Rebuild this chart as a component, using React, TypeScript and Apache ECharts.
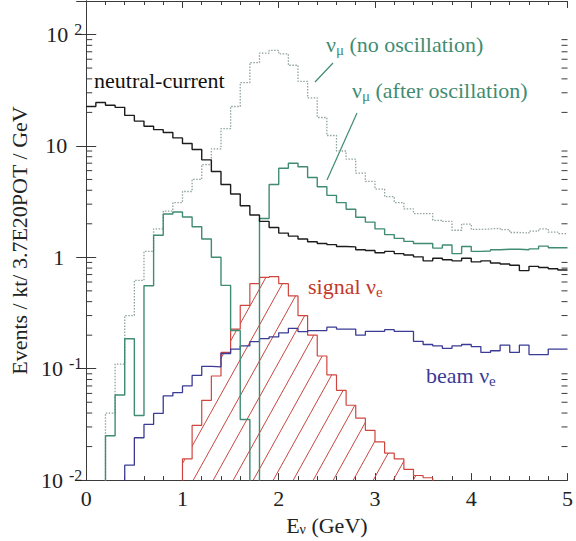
import React, { useEffect, useRef } from "react";
import * as echarts from "echarts";

// ---- data (0.1 GeV bins from 0 to 5 GeV); BELOW = under the plotted range ----
const BELOW = 0.001;
const BIN_WIDTH = 0.1;
const X_MIN = 0;
const X_MAX = 5;
const Y_MIN = 0.01;
const Y_MAX = 200;

const neutralCurrent = [
  22.6, 24.5, 23.2, 22.2, 18.8, 16.7, 15.0, 14.0, 13.2, 11.8,
  10.5, 9.3, 7.5, 5.9, 4.5, 3.7, 2.9, 2.4, 2.1, 1.85,
  1.65, 1.55, 1.46, 1.38, 1.33, 1.3, 1.25, 1.24, 1.17, 1.15,
  1.1, 1.13, 1.08, 1.05, 1.01, 0.93, 0.98, 0.95, 0.93, 0.98,
  0.91, 0.93, 0.89, 0.87, 0.85, 0.76, 0.83, 0.81, 0.79, 0.77,
];

const numuNoOsc = [
  BELOW, BELOW, 0.04, 0.11, 0.3, 0.62, 1.13, 1.8, 2.6, 3.1,
  3.9, 5.0, 6.8, 9.4, 14.3, 22.6, 37, 56, 68, 72,
  67, 53, 38, 27, 18, 12.4, 9.0, 7.6, 5.7, 4.8,
  4.1, 3.5, 3.1, 2.72, 2.47, 2.47, 2.15, 2.1, 1.75, 1.99,
  1.78, 1.8, 1.82, 1.77, 1.67, 1.65, 1.72, 1.8, 1.68, 1.63,
];

const numuAfterOsc = [
  BELOW, BELOW, 0.025, 0.058, 0.186, 0.038, 0.555, 1.58, 2.45, 2.55,
  2.3, 1.88, 1.46, 1.0, 0.56, 0.22, 0.035, BELOW, 2.23, 4.5,
  6.3, 7.0, 6.5, 5.2, 4.3, 3.6, 3.1, 2.7, 2.29, 2.07,
  1.8, 1.6, 1.48, 1.39, 1.33, 1.33, 1.21, 1.29, 1.08, 1.25,
  1.13, 1.14, 1.17, 1.18, 1.18, 1.17, 1.19, 1.26, 1.22, 1.22,
];

const beamNue = [
  BELOW, BELOW, BELOW, BELOW, 0.0136, 0.024, 0.0316, 0.0397, 0.057, 0.061,
  0.07, 0.087, 0.105, 0.104, 0.137, 0.15, 0.16, 0.175, 0.186, 0.193,
  0.21, 0.23, 0.215, 0.22, 0.22, 0.236, 0.227, 0.227, 0.2, 0.216,
  0.216, 0.224, 0.216, 0.216, 0.176, 0.165, 0.16, 0.152, 0.16, 0.165,
  0.158, 0.14, 0.145, 0.163, 0.14, 0.163, 0.134, 0.134, 0.15, 0.15,
];

const signalNue = [
  BELOW, BELOW, BELOW, BELOW, BELOW, BELOW, BELOW, BELOW, BELOW, BELOW,
  0.0155, 0.031, 0.052, 0.086, 0.14, 0.227, 0.37, 0.58, 0.66, 0.67,
  0.58, 0.45, 0.3, 0.2, 0.13, 0.088, 0.064, 0.047, 0.036, 0.028,
  0.022, 0.0175, 0.0155, 0.0125, 0.011, 0.0105, BELOW, BELOW, BELOW, BELOW,
  BELOW, BELOW, BELOW, BELOW, BELOW, BELOW, BELOW, BELOW, BELOW, BELOW,
];

const xTickValues = [0, 1, 2, 3, 4, 5];
const yTickExponents = [-2, -1, 0, 1, 2];
const yTickLabelText: Record<string, string> = {
  "2": "{b|10}{s|2}",
  "1": "{b|10}{p1| }",
  "0": "{b|1}{p2| }",
  "-1": "{b|10}{s|-1}",
  "-2": "{b|10}{s|-2}",
};
const minorLogTicks = [
  0.02, 0.03, 0.04, 0.05, 0.06, 0.07, 0.08, 0.09,
  0.2, 0.3, 0.4, 0.5, 0.6, 0.7, 0.8, 0.9,
  2, 3, 4, 5, 6, 7, 8, 9,
  20, 30, 40, 50, 60, 70, 80, 90,
];

const FONT = "Liberation Serif";
const C_NC = "#1c1c1c";
const C_GREEN = "#3f8c72";
const C_DOT = "#8ea39a";
const C_BLUE = "#3b3b95";
const C_RED = "#d0443e";
const C_AXIS = "#3a3a3a";

function toSteps(values: number[]) {
  const pts = values.map((v, i) => [Math.round(i * BIN_WIDTH * 10) / 10, v]);
  pts.push([Math.round(values.length * BIN_WIDTH * 10) / 10, values[values.length - 1]]);
  return pts;
}

function makeHatch(color: string) {
  const w = 20;
  const h = 36;
  const c = document.createElement("canvas");
  c.width = w;
  c.height = h;
  const ctx = c.getContext("2d")!;
  ctx.strokeStyle = color;
  ctx.lineWidth = 1;
  for (const off of [-w, 0, w]) {
    ctx.beginPath();
    ctx.moveTo(off - w, 2 * h);
    ctx.lineTo(off + 2 * w, -h);
    ctx.stroke();
  }
  return { image: c, repeat: "repeat", imageWidth: w, imageHeight: h };
}

function stepLine(name: string, values: number[], color: string, width: number, type: any = "solid") {
  return {
    name,
    type: "line",
    step: "end",
    data: toSteps(values),
    showSymbol: false,
    symbol: "none",
    clip: true,
    silent: true,
    lineStyle: { color, width, type },
  };
}

export default function App() {
  const ref = useRef<HTMLDivElement>(null);

  useEffect(() => {
    if (!ref.current) return;
    const chart = echarts.init(ref.current, undefined, { renderer: "svg" });
    const hatch = makeHatch("#c9473f");

    const labelStyle = (color: string) => ({
      fill: color,
      fontFamily: FONT,
      fontSize: 22,
      verticalAlign: "middle",
      align: "left",
    });
    const richSub = (color: string) => ({
      v: { fontSize: 22, lineHeight: 26, fontFamily: FONT, color },
      s: { fontSize: 15, lineHeight: 14, verticalAlign: "bottom", fontFamily: FONT, color },
    });

    const option: any = {
      animation: false,
      backgroundColor: "#ffffff",
      textStyle: { fontFamily: FONT },
      grid: { left: 84, top: 1, width: 489, height: 487, containLabel: false },
      xAxis: [
        {
          type: "value",
          min: X_MIN,
          max: X_MAX,
          interval: 1,
          position: "bottom",
          axisLine: { show: true, lineStyle: { color: C_AXIS, width: 1 } },
          axisTick: { show: true, inside: true, length: 7, lineStyle: { color: C_AXIS } },
          minorTick: { show: true, splitNumber: 5, length: 4, lineStyle: { color: C_AXIS } },
          splitLine: { show: false },
          axisLabel: {
            show: true,
            margin: 7,
            fontSize: 22,
            fontFamily: FONT,
            color: "#222",
            formatter: (v: number) => (xTickValues.includes(v) ? String(v) : ""),
          },
          name: "E{s|ν} (GeV)",
          nameLocation: "middle",
          nameGap: 28,
          nameTextStyle: {
            fontSize: 22,
            fontFamily: FONT,
            color: "#222",
            rich: {
              s: { fontSize: 14, lineHeight: 12, verticalAlign: "bottom", fontFamily: FONT, color: "#222" },
            },
          },
        },
        {
          type: "value",
          min: X_MIN,
          max: X_MAX,
          interval: 1,
          position: "top",
          axisLine: { show: true, lineStyle: { color: C_AXIS, width: 1 } },
          axisTick: { show: true, inside: true, length: 7, lineStyle: { color: C_AXIS } },
          minorTick: { show: true, splitNumber: 5, length: 4, lineStyle: { color: C_AXIS } },
          splitLine: { show: false },
          axisLabel: { show: false },
        },
      ],
      yAxis: [
        {
          type: "log",
          logBase: 10,
          min: Y_MIN,
          max: Y_MAX,
          position: "left",
          axisLine: { show: true, lineStyle: { color: C_AXIS, width: 1 } },
          axisTick: { show: true, inside: true, length: 10, lineStyle: { color: C_AXIS } },
          splitLine: { show: false },
          axisLabel: {
            show: true,
            margin: 4,
            fontFamily: FONT,
            color: "#222",
            formatter: (v: number) => {
              const lg = Math.log10(v);
              const e = Math.round(lg);
              if (Math.abs(lg - e) > 1e-6 || !yTickExponents.includes(e)) return "";
              return yTickLabelText[String(e)] || "";
            },
            rich: {
              b: { fontSize: 22, lineHeight: 26, fontFamily: FONT, color: "#222" },
              s: { fontSize: 16, lineHeight: 16, verticalAlign: "top", padding: [0, 0, 0, 6], fontFamily: FONT, color: "#222" },
              p1: { width: 15, fontSize: 22, lineHeight: 26 },
              p2: { width: 18, fontSize: 22, lineHeight: 26 },
            },
          },
          name: "Events / kt/ 3.7E20POT / GeV",
          nameLocation: "middle",
          nameRotate: 90,
          nameGap: 48,
          nameTextStyle: { fontSize: 22, fontFamily: FONT, color: "#222" },
        },
        {
          type: "log",
          logBase: 10,
          min: Y_MIN,
          max: Y_MAX,
          position: "right",
          axisLine: { show: true, lineStyle: { color: C_AXIS, width: 1 } },
          axisTick: { show: true, inside: true, length: 10, lineStyle: { color: C_AXIS } },
          splitLine: { show: false },
          axisLabel: { show: false },
        },
      ],
      series: [
        {
          name: "signal hatch",
          type: "custom",
          silent: true,
          data: [[X_MIN, Y_MIN]],
          z: 1,
          renderItem: (params: any, api: any) => {
            const base = api.coord([X_MIN, Y_MIN]);
            const end = api.coord([X_MAX, Y_MIN]);
            const pts: number[][] = [[base[0], base[1]]];
            signalNue.forEach((v, i) => {
              const vv = Math.max(v, Y_MIN);
              pts.push(api.coord([i * BIN_WIDTH, vv]));
              pts.push(api.coord([(i + 1) * BIN_WIDTH, vv]));
            });
            pts.push([end[0], end[1]]);
            return {
              type: "polygon",
              shape: { points: pts },
              style: { fill: hatch, stroke: "none" },
            };
          },
        },
        {
          name: "minor ticks",
          type: "custom",
          silent: true,
          data: minorLogTicks.map((v) => [X_MIN, v]),
          z: 5,
          renderItem: (params: any, api: any) => {
            const v = api.value(1);
            const l = api.coord([X_MIN, v]);
            const r = api.coord([X_MAX, v]);
            return {
              type: "group",
              children: [
                { type: "line", shape: { x1: l[0], y1: l[1], x2: l[0] + 6, y2: l[1] }, style: { stroke: C_AXIS, lineWidth: 1 } },
                { type: "line", shape: { x1: r[0] - 6, y1: r[1], x2: r[0], y2: r[1] }, style: { stroke: C_AXIS, lineWidth: 1 } },
              ],
            };
          },
        },
        { ...stepLine("signal νe", signalNue, C_RED, 1.2), z: 2 },
        { ...stepLine("beam νe", beamNue, C_BLUE, 1.3), z: 3 },
        { ...stepLine("νμ no oscillation", numuNoOsc, C_DOT, 1.3, [1.5, 1.5]), z: 3 },
        { ...stepLine("νμ after oscillation", numuAfterOsc, C_GREEN, 1.4), z: 4 },
        { ...stepLine("neutral-current", neutralCurrent, C_NC, 1.4), z: 4 },
      ],
      graphic: [
        { type: "text", x: 94, y: 80, style: { ...labelStyle("#111"), text: "neutral-current" } },
        {
          type: "text",
          x: 326,
          y: 44,
          style: { ...labelStyle(C_GREEN), text: "{v|ν}{s|μ}{v| (no oscillation)}", rich: richSub(C_GREEN) },
        },
        {
          type: "text",
          x: 352,
          y: 90,
          style: { ...labelStyle(C_GREEN), text: "{v|ν}{s|μ}{v| (after oscillation)}", rich: richSub(C_GREEN) },
        },
        {
          type: "text",
          x: 308,
          y: 286,
          style: { ...labelStyle("#c0392b"), text: "{v|signal ν}{s|e}", rich: richSub("#c0392b") },
        },
        {
          type: "text",
          x: 426,
          y: 375,
          style: { ...labelStyle(C_BLUE), text: "{v|beam ν}{s|e}", rich: richSub(C_BLUE) },
        },
        { type: "line", shape: { x1: 315, y1: 82, x2: 333, y2: 63 }, style: { stroke: C_GREEN, lineWidth: 1.2 } },
        { type: "line", shape: { x1: 327, y1: 180, x2: 357, y2: 113 }, style: { stroke: C_GREEN, lineWidth: 1.2 } },
      ],
    };

    chart.setOption(option);
    return () => chart.dispose();
  }, []);

  return (
    <div
      ref={ref}
      style={{ position: "absolute", left: 0, top: 0, width: 576, height: 541, background: "#fff" }}
    />
  );
}
